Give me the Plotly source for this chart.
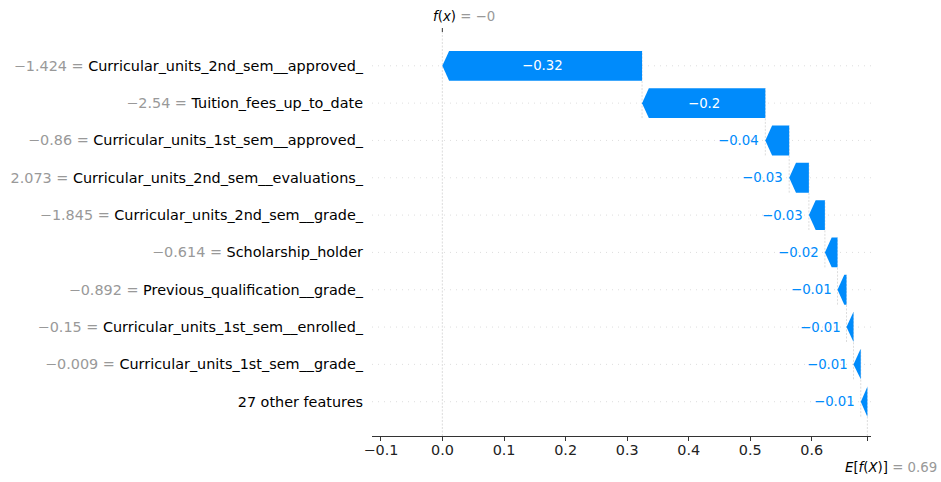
import plotly.graph_objects as go

# ---------------- data ----------------
feature_names = [
    "Curricular_units_2nd_sem__approved_",
    "Tuition_fees_up_to_date",
    "Curricular_units_1st_sem__approved_",
    "Curricular_units_2nd_sem__evaluations_",
    "Curricular_units_2nd_sem__grade_",
    "Scholarship_holder",
    "Previous_qualification__grade_",
    "Curricular_units_1st_sem__enrolled_",
    "Curricular_units_1st_sem__grade_",
    "27 other features",
]
feature_values = [-1.424, -2.54, -0.86, 2.073, -1.845, -0.614, -0.892, -0.15, -0.009, None]
shap_values = [-0.3245, -0.2003, -0.0388, -0.032, -0.026, -0.0205, -0.0146, -0.0114, -0.0118, -0.0107]
base_value = 0.6903
x_tick_values = [-0.1, 0.0, 0.1, 0.2, 0.3, 0.4, 0.5, 0.6]

# ---------------- style ----------------
BLUE = "#008bfb"
GRAY_TXT = "#999999"
FONT = "DejaVu Sans"
X_RANGE = [-0.1146, 0.6962]
Y_RANGE = [-0.919, 9.906]
BAR_H = 0.4
HEAD = 0.011
M_L, M_R, M_T, M_B = 372, 70, 32, 46
W, H = 941, 482
px_per_unit = (W - M_L - M_R) / (X_RANGE[1] - X_RANGE[0])


def fmt(v, pattern):
    s = (pattern % v).rstrip("0").rstrip(".")
    return s.replace("-", "\u2212")


n = len(shap_values)
ys = [n - 1 - i for i in range(n)]
fx = base_value + sum(shap_values)

fig = go.Figure()

# dotted row guide lines
for y in ys:
    fig.add_trace(go.Scatter(x=X_RANGE, y=[y, y], mode="lines",
                             line=dict(color="#d0d0d0", width=0.7, dash="1px,5px"),
                             hoverinfo="skip", showlegend=False))

# connecting dashed lines
loc = fx
starts = []
for i, v in enumerate(shap_values):
    loc -= v
    starts.append(loc)
    y = ys[i]
    fig.add_trace(go.Scatter(x=[loc, loc], y=[max(y - 1 - BAR_H, Y_RANGE[0]), y + BAR_H], mode="lines",
                             line=dict(color="#c4c4c4", width=0.6, dash="2px,1.5px"),
                             hoverinfo="skip", showlegend=False))

# f(x) full-height dashed line
fig.add_trace(go.Scatter(x=[fx, fx], y=Y_RANGE, mode="lines",
                         line=dict(color="#c4c4c4", width=0.6, dash="2px,1.5px"),
                         hoverinfo="skip", showlegend=False))

# arrow bars
for i, v in enumerate(shap_values):
    s = starts[i]
    e = s + v
    y = ys[i]
    h = min(abs(v), HEAD)
    body = e + h
    xs = [s, body, e, body, s, s]
    yy = [y + BAR_H, y + BAR_H, y, y - BAR_H, y - BAR_H, y + BAR_H]
    fig.add_trace(go.Scatter(x=xs, y=yy, mode="lines", fill="toself", fillcolor=BLUE,
                             line=dict(width=0, color=BLUE), hoverinfo="skip", showlegend=False))
    label = fmt(v, "%+0.02f")
    if abs(v) * px_per_unit > 45:
        fig.add_annotation(x=(s + e) / 2, y=y, text=label, showarrow=False,
                           font=dict(family=FONT, size=13.3, color="white"),
                           xanchor="center", yanchor="middle")
    else:
        fig.add_annotation(x=e, y=y, text=label, showarrow=False,
                           font=dict(family=FONT, size=13.3, color=BLUE),
                           xanchor="right", yanchor="middle", xshift=-4)

# y tick labels
tick_text = []
for name, val in zip(feature_names, feature_values):
    if val is None:
        tick_text.append(name)
    else:
        tick_text.append(f"<span style='color:{GRAY_TXT}'>{fmt(val, '%0.03f')} = </span>{name}")

# top tick at f(x)
fig.add_shape(type="line", xref="x", yref="paper", x0=fx, x1=fx, ysizemode="pixel", yanchor=1,
              y0=0, y1=4, line=dict(color="#333333", width=1))

fig.add_annotation(x=fx, y=1, xref="x", yref="paper", xanchor="left", yanchor="middle",
                   xshift=-11, yshift=16, showarrow=False,
                   text=f"<i>f</i>(<i>x</i>) <span style='color:{GRAY_TXT}'>= {fmt(fx, '%0.03f')}</span>",
                   font=dict(family=FONT, size=13.3, color="black"))
fig.add_annotation(x=base_value, y=0, xref="x", yref="paper", xanchor="left", yanchor="middle",
                   xshift=-24, yshift=-31, showarrow=False,
                   text=f"<i>E</i>[<i>f</i>(<i>X</i>)] <span style='color:{GRAY_TXT}'>= {fmt(base_value, '%0.03f')}</span>",
                   font=dict(family=FONT, size=13.3, color="black"))

fig.update_layout(
    width=W, height=H,
    margin=dict(l=M_L, r=M_R, t=M_T, b=M_B, pad=0),
    paper_bgcolor="white", plot_bgcolor="white",
    font=dict(family=FONT, color="black"),
    showlegend=False,
    xaxis=dict(range=X_RANGE, showgrid=False, zeroline=False, automargin=False,
               showline=True, linecolor="#333333", linewidth=1,
               ticks="outside", ticklen=4, tickwidth=1, tickcolor="#333333",
               tickvals=x_tick_values + [base_value],
               ticktext=[fmt(t, "%0.01f") if t != 0 else "0.0" for t in x_tick_values] + [""],
               ticklabelstandoff=-3,
               tickfont=dict(family=FONT, size=14.4, color="#222222")),
    yaxis=dict(range=Y_RANGE, showgrid=False, zeroline=False, showline=False, automargin=False,
               tickvals=ys, ticktext=tick_text, ticks="", ticklabelstandoff=8,
               tickfont=dict(family=FONT, size=14.4, color="black")),
)

fig.write_html("out.html", config={"displayModeBar": False},
               post_script="document.body.style.margin='0';document.body.style.overflow='hidden';")
